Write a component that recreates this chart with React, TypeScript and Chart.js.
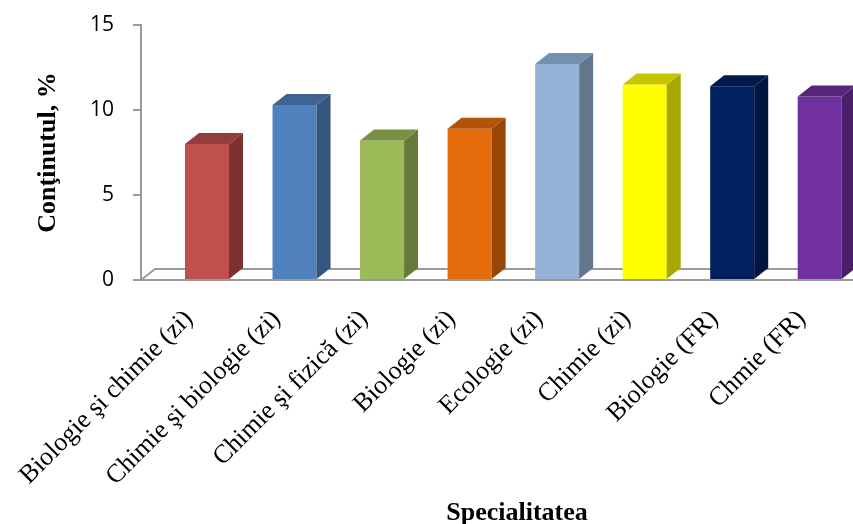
import { useEffect, useRef } from 'react';
import { Chart, registerables } from 'chart.js';

Chart.register(...registerables);

// Specialities and their content, %
const CATEGORIES = [
  'Biologie şi chimie (zi)',
  'Chimie şi biologie (zi)',
  'Chimie şi fizică (zi)',
  'Biologie (zi)',
  'Ecologie (zi)',
  'Chimie (zi)',
  'Biologie (FR)',
  'Chmie (FR)',
];
const VALUES = [8.0, 10.3, 8.2, 8.9, 12.7, 11.5, 11.4, 10.8];

const Y_MIN = 0;
const Y_MAX = 15;
const Y_STEP = 5;

const Y_TITLE = 'Conţinutul, %';
const X_TITLE = 'Specialitatea';

// Face colours of each column: front, right side, top
const FRONT_COLORS = ['#C0504D', '#4F81BD', '#9BBB59', '#E46C0A', '#95B3D7', '#FFFF00', '#002060', '#7030A0'];
const SIDE_COLORS = ['#7E3230', '#34557D', '#667B3A', '#964706', '#62768E', '#A8A800', '#00153F', '#4A1F69'];
const TOP_COLORS = ['#953D3B', '#3D6493', '#789145', '#B15408', '#7490B0', '#C6C600', '#001A4B', '#57257C'];

const AXIS_COLOR = '#9a9a9a';
const DEPTH_X = 14;
const DEPTH_Y = -11;

// Perspective floor behind the columns
const floorPlugin = {
  id: 'floor3d',
  beforeDatasetsDraw(chart: any) {
    const { ctx, chartArea } = chart;
    const { left, right, bottom } = chartArea;
    ctx.save();
    ctx.strokeStyle = AXIS_COLOR;
    ctx.lineWidth = 2;
    ctx.beginPath();
    ctx.moveTo(left, bottom);
    ctx.lineTo(left + DEPTH_X, bottom + DEPTH_Y);
    ctx.lineTo(right, bottom + DEPTH_Y);
    ctx.stroke();
    ctx.restore();
  },
};

// Side and top faces that give the columns their depth
const columnDepthPlugin = {
  id: 'columnDepth',
  afterDatasetsDraw(chart: any) {
    const { ctx } = chart;
    const meta = chart.getDatasetMeta(0);
    ctx.save();
    meta.data.forEach((bar: any, i: number) => {
      const { x, y, base, width } = bar.getProps(['x', 'y', 'base', 'width'], true);
      const l = x - width / 2;
      const r = x + width / 2;
      ctx.fillStyle = SIDE_COLORS[i];
      ctx.beginPath();
      ctx.moveTo(r, y);
      ctx.lineTo(r + DEPTH_X, y + DEPTH_Y);
      ctx.lineTo(r + DEPTH_X, base + DEPTH_Y);
      ctx.lineTo(r, base);
      ctx.closePath();
      ctx.fill();
      ctx.fillStyle = TOP_COLORS[i];
      ctx.beginPath();
      ctx.moveTo(l, y);
      ctx.lineTo(l + DEPTH_X, y + DEPTH_Y);
      ctx.lineTo(r + DEPTH_X, y + DEPTH_Y);
      ctx.lineTo(r, y);
      ctx.closePath();
      ctx.fill();
    });
    ctx.restore();
  },
};

// Category axis caption, set a little right of the plot centre
const xTitlePlugin = {
  id: 'xTitle',
  afterDraw(chart: any) {
    const { ctx, chartArea, height } = chart;
    ctx.save();
    ctx.font = 'bold 26px "Liberation Serif"';
    ctx.fillStyle = '#000';
    ctx.textAlign = 'center';
    ctx.textBaseline = 'alphabetic';
    ctx.fillText(X_TITLE, (chartArea.left + chartArea.right) / 2 + 20, height - 4);
    ctx.restore();
  },
};

export default function App() {
  const canvasRef = useRef<HTMLCanvasElement | null>(null);

  useEffect(() => {
    if (!canvasRef.current) return;
    const chart = new Chart(canvasRef.current, {
      type: 'bar',
      data: {
        datasets: [
          {
            data: VALUES.map((v, i) => ({ x: i, y: v })),
            backgroundColor: FRONT_COLORS,
            borderWidth: 0,
            categoryPercentage: 1,
            barPercentage: 0.503,
          },
        ],
      },
      options: {
        responsive: false,
        animation: false,
        layout: { padding: { top: 25, left: 0, right: 0, bottom: 0 } },
        plugins: {
          legend: { display: false },
          tooltip: { enabled: false },
        },
        scales: {
          x: {
            type: 'linear',
            min: -0.754,
            max: 7.38,
            offset: false,
            grid: { display: false, drawTicks: false },
            border: { display: true, color: AXIS_COLOR, width: 2 },
            afterBuildTicks: (scale: any) => {
              scale.ticks = CATEGORIES.map((_, i) => ({ value: i }));
            },
            afterFit: (scale: any) => {
              scale.height = 244;
              scale.paddingLeft = 0;
              scale.paddingRight = 0;
            },
            ticks: {
              autoSkip: false,
              minRotation: 45,
              maxRotation: 45,
              padding: 24,
              labelOffset: -18,
              color: '#000',
              font: { family: '"Liberation Serif"', size: 26 },
              callback: (v: any) => CATEGORIES[v as number] ?? '',
            },
          },
          y: {
            min: Y_MIN,
            max: Y_MAX,
            ticks: {
              stepSize: Y_STEP,
              padding: 19,
              color: '#000',
              font: { family: '"Open Sans"', size: 21 },
            },
            grid: {
              drawOnChartArea: false,
              drawTicks: true,
              tickLength: 8,
              color: AXIS_COLOR,
              lineWidth: 2,
            },
            border: { color: AXIS_COLOR, width: 2 },
            title: {
              display: true,
              text: Y_TITLE,
              color: '#000',
              font: { family: '"Liberation Serif"', size: 26, weight: 'bold' },
              padding: { top: 33, bottom: 0 },
            },
            afterFit: (scale: any) => {
              scale.width = 141;
              scale.paddingTop = 0;
              scale.paddingBottom = 0;
            },
          },
        },
      },
      plugins: [floorPlugin, columnDepthPlugin, xTitlePlugin],
    } as any);
    return () => chart.destroy();
  }, []);

  return (
    <div style={{ position: 'absolute', left: 0, top: 0, width: 853, height: 524, background: '#fff' }}>
      <canvas ref={canvasRef} width={853} height={524} style={{ display: 'block' }} />
    </div>
  );
}
